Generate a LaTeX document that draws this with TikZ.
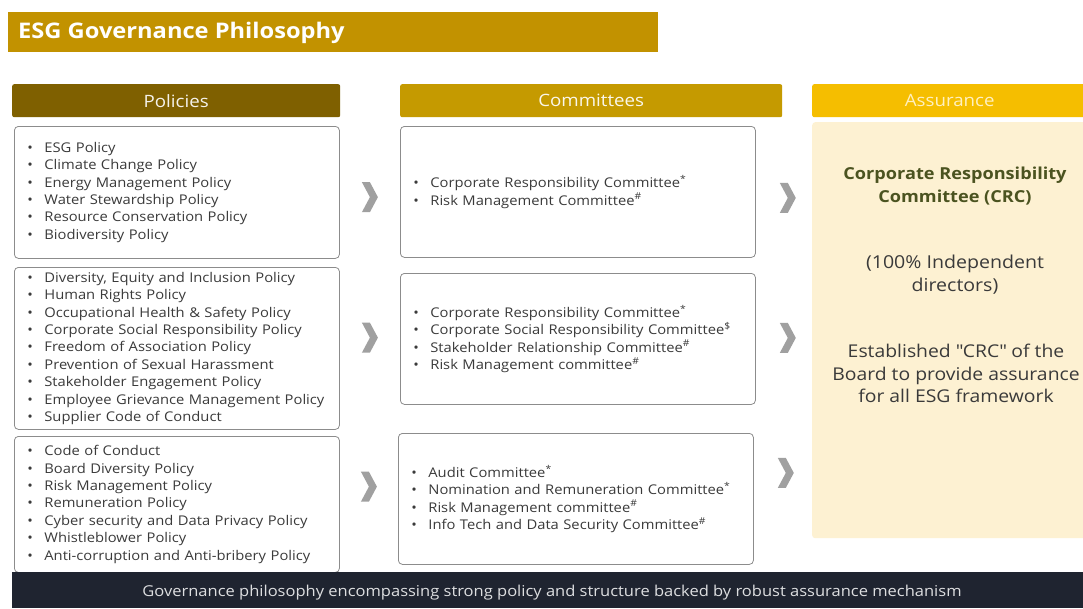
\documentclass[tikz,border=0pt]{standalone}
\usepackage{fontspec}
\setmainfont{Open Sans}[FakeStretch=1.1]
\usetikzlibrary{calc}
\definecolor{titlegold}{HTML}{C29200}
\definecolor{polhead}{HTML}{7F6000}
\definecolor{comhead}{HTML}{C59A00}
\definecolor{asshead}{HTML}{F5BE00}
\definecolor{asstext}{HTML}{FFF0C0}
\definecolor{assbody}{HTML}{FDF1D2}
\definecolor{darkbar}{HTML}{1F2430}
\definecolor{crcgreen}{HTML}{4B5320}
\definecolor{listgray}{HTML}{3A3A3A}
\definecolor{boxline}{HTML}{8C8C8C}
\definecolor{chevgray}{HTML}{A0A0A0}
\newcommand\itm[1]{\makebox[17pt][l]{\textbullet}#1}
\tikzset{
  listbox/.style={draw=boxline, line width=0.8pt, rounded corners=4pt, fill=white,
    anchor=north west, align=left, text=listgray, inner ysep=0pt,
    font={\fontsize{13.4}{17.4}\selectfont}},
  polbox/.style={listbox, minimum width=325pt, text width=299pt, inner xsep=13pt},
  combox/.style={listbox, minimum width=355pt, text width=329pt, inner xsep=13pt},
  header/.style={anchor=north west, rounded corners=2pt, minimum height=33pt,
    inner sep=0pt, font={\fontsize{17}{20}\selectfont}},
  chev/.pic={\fill[chevgray] (-8,-15) -- (0,-15) -- (8,0) -- (0,15) -- (-8,15) -- (0,0) -- cycle;}
}
\begin{document}
\begin{tikzpicture}[x=1pt,y=-1pt]
\useasboundingbox (0,0) rectangle (1083,608);
\fill[white] (0,0) rectangle (1083,608);
% title
\node[anchor=north west, fill=titlegold, minimum width=650pt, minimum height=40pt, inner sep=0pt] (title) at (8,12) {};
\node[anchor=west, inner sep=0pt, text=white, font={\bfseries\fontsize{21.5}{24}\selectfont}] (titletext) at (18,33) {ESG Governance Philosophy};
% headers
\node[header, fill=polhead, minimum width=328pt, text=white!92!polhead] (hpol) at (12,84) {Policies};
\node[header, fill=comhead, minimum width=382pt, text=white!92!comhead] (hcom) at (400,84) {Committees};
\node[header, fill=asshead, minimum width=275pt, text=asstext] (hass) at (812,84) {Assurance};
% assurance body
\node[anchor=north west, fill=assbody, rounded corners=3pt, minimum width=275pt, minimum height=416pt, inner sep=0pt] (abody) at (812,122) {};
\node[align=center, text=crcgreen, font={\bfseries\fontsize{16.5}{23}\selectfont}] (crc) at (955,186.5) {Corporate Responsibility\\Committee (CRC)};
\node[align=center, text=listgray, font={\fontsize{17.8}{23}\selectfont}] (indep) at (955,274.5) {(100\% Independent\\directors)};
\node[align=center, text=listgray, font={\fontsize{17.6}{22.5}\selectfont}] (estab) at (956,373.5) {Established \textquotedbl CRC\textquotedbl\ of the\\Board to provide assurance\\for all ESG framework};
% policy boxes
\node[polbox, minimum height=132pt] (p1) at (14,126) {\itm{ESG Policy}\\\itm{Climate Change Policy}\\\itm{Energy Management Policy}\\\itm{Water Stewardship Policy}\\\itm{Resource Conservation Policy}\\\itm{Biodiversity Policy}};
\node[polbox, minimum height=162pt] (p2) at (14,267) {\itm{Diversity, Equity and Inclusion Policy}\\\itm{Human Rights Policy}\\\itm{Occupational Health \& Safety Policy}\\\itm{Corporate Social Responsibility Policy}\\\itm{Freedom of Association Policy}\\\itm{Prevention of Sexual Harassment}\\\itm{Stakeholder Engagement Policy}\\\itm{Employee Grievance Management Policy}\\\itm{Supplier Code of Conduct}};
\node[polbox, minimum height=136pt] (p3) at (14,436) {\itm{Code of Conduct}\\\itm{Board Diversity Policy}\\\itm{Risk Management Policy}\\\itm{Remuneration Policy}\\\itm{Cyber security and Data Privacy Policy}\\\itm{Whistleblower Policy}\\\itm{Anti-corruption and Anti-bribery Policy}};
% committee boxes
\node[combox, minimum height=131pt] (c1) at (400,126) {\itm{Corporate Responsibility Committee\textsuperscript{*}}\\\itm{Risk Management Committee\textsuperscript{\#}}};
\node[combox, minimum height=131pt] (c2) at (400,273) {\itm{Corporate Responsibility Committee\textsuperscript{*}}\\\itm{Corporate Social Responsibility Committee\textsuperscript{\$}}\\\itm{Stakeholder Relationship Committee\textsuperscript{\#}}\\\itm{Risk Management committee\textsuperscript{\#}}\\[6pt]};
\node[combox, minimum height=131pt] (c3) at (398,433) {\itm{Audit Committee\textsuperscript{*}}\\\itm{Nomination and Remuneration Committee\textsuperscript{*}}\\\itm{Risk Management committee\textsuperscript{\#}}\\\itm{Info Tech and Data Security Committee\textsuperscript{\#}}};
% bottom bar
\node[anchor=north west, fill=darkbar, minimum width=1071pt, minimum height=36pt, inner sep=0pt] (bar) at (12,572) {};
\node[text=white!85!darkbar, font={\fontsize{15}{17}\selectfont}] (bartext) at (552,593) {Governance philosophy encompassing strong policy and structure backed by robust assurance mechanism};
% chevrons
\pic at ($(p1.east)!0.5!(c1.west)+(0,5)$) {chev};
\pic at ($(p2.east)!0.5!(c2.west)+(0,-6)$) {chev};
\pic at ($(p3.east)!0.5!(c3.west)+(0,-15)$) {chev};
\pic at ($(c1.east)+(32,6)$) {chev};
\pic at ($(c2.east)+(32,-1)$) {chev};
\pic at ($(c3.east)+(32,-26)$) {chev};
\end{tikzpicture}
\end{document}
